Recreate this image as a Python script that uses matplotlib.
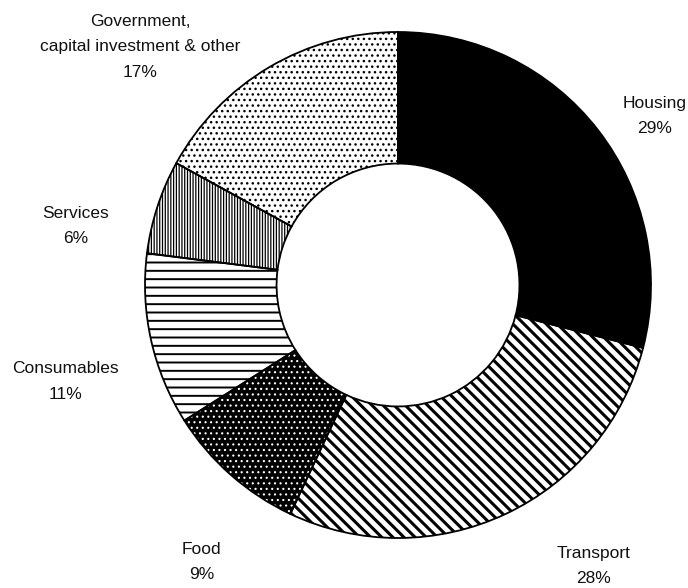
import matplotlib
matplotlib.use("Agg")
import matplotlib.pyplot as plt

plt.rcParams['font.family'] = ['Liberation Sans', 'DejaVu Sans']

categories = ["Housing", "Transport", "Food", "Consumables", "Services",
              "Government,\ncapital investment & other"]
values = [29, 28, 9, 11, 6, 17]
pct_labels = ["29%", "28%", "9%", "11%", "6%", "17%"]

# styles: face, hatch, hatch colour, hatch linewidth
faces = ["black", "white", "black", "white", "white", "white"]
hatches = [None, "\\\\\\", "...", "--", "||||||", "..."]
hatch_cols = ["black", "black", "white", "black", "black", "black"]
hatch_lw = [1.0, 2.2, 0.8, 1.4, 0.9, 1.0]
label_pos = [(1.016, 0.668), (0.771, -1.111), (-0.775, -1.095),
             (-1.316, -0.383), (-1.273, 0.233), (-1.020, 0.941)]

W, H = 688, 588
fig = plt.figure(figsize=(W / 100, H / 100), dpi=100)
cx, cy, R = 398, 285, 253
ax = fig.add_axes([(cx - R) / W, (H - cy - R) / H, 2 * R / W, 2 * R / H])

# fill + hatch layer
wedges, _ = ax.pie(values, startangle=90, counterclock=False, radius=1,
                   wedgeprops=dict(width=0.52, linewidth=0))
for w, f, h, hc, lw in zip(wedges, faces, hatches, hatch_cols, hatch_lw):
    w.set_facecolor(f)
    w.set_edgecolor(hc)
    w.set_linewidth(0)
    if h:
        w.set_hatch(h)
    if hasattr(w, 'set_hatch_linewidth'):
        w.set_hatch_linewidth(lw)

# outline layer
wedges2, _ = ax.pie(values, startangle=90, counterclock=False, radius=1,
                    wedgeprops=dict(width=0.52, linewidth=1.3,
                                    edgecolor='black', fill=False))

ax.set_xlim(-1, 1)
ax.set_ylim(-1, 1)
ax.set_aspect('equal')
ax.axis('off')

for cat, pct, (x, y) in zip(categories, pct_labels, label_pos):
    ax.text(x, y, cat + "\n" + pct, ha='center', va='center',
            fontsize=12.5, linespacing=1.9, color='#111111')

fig.savefig("out.png", dpi=100, facecolor='white')
